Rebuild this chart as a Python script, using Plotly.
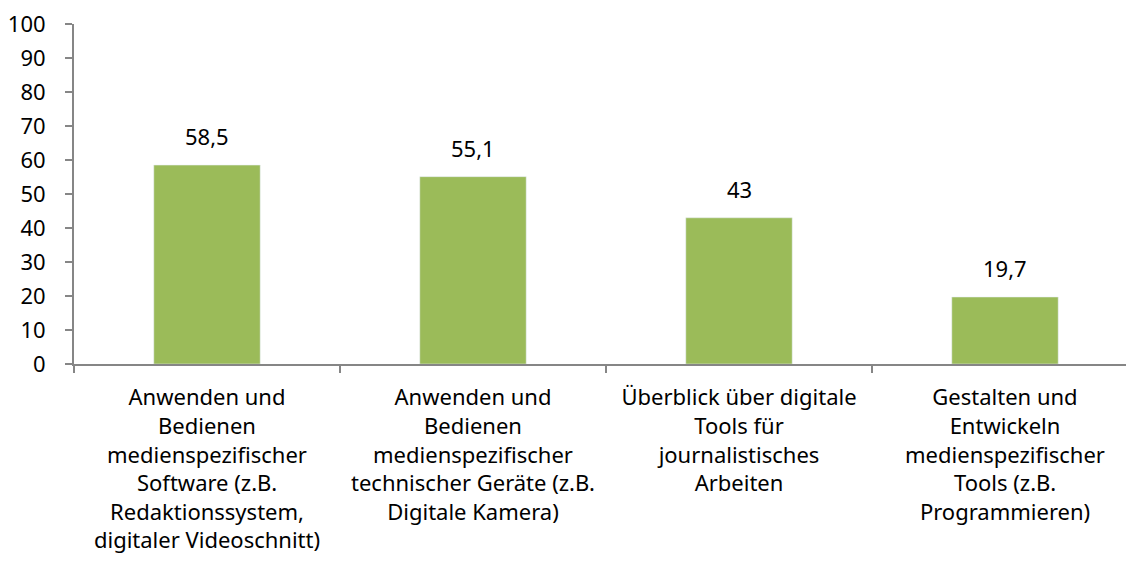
import plotly.graph_objects as go

categories = [
    "Anwenden und<br>Bedienen<br>medienspezifischer<br>Software (z.B.<br>Redaktionssystem,<br>digitaler Videoschnitt)",
    "Anwenden und<br>Bedienen<br>medienspezifischer<br>technischer Geräte (z.B.<br>Digitale Kamera)",
    "Überblick über digitale<br>Tools für<br>journalistisches<br>Arbeiten",
    "Gestalten und<br>Entwickeln<br>medienspezifischer<br>Tools (z.B.<br>Programmieren)",
]
values = [58.5, 55.1, 43, 19.7]
value_labels = ["58,5", "55,1", "43", "19,7"]
y_ticks = list(range(0, 101, 10))

FONT = "Noto Sans"
fig = go.Figure()
fig.add_trace(go.Bar(
    x=categories, y=values, marker_color="#9BBB59", width=0.4,
    hoverinfo="skip",
))
for c, v, t in zip(categories, values, value_labels):
    fig.add_annotation(x=c, y=v, text=t, showarrow=False, yanchor="bottom",
                       yshift=12, font=dict(family=FONT, size=22, color="black"))

fig.update_layout(
    width=1134, height=575,
    margin=dict(l=66, r=4, t=16, b=219),
    plot_bgcolor="white", paper_bgcolor="white",
    font=dict(family=FONT, size=22, color="black"),
    showlegend=False,
    bargap=0.6,
)
fig.update_xaxes(
    range=[-0.5, 3.5], showline=True, linecolor="#868686", linewidth=2,
    ticks="outside", tickson="boundaries", ticklen=7, tickcolor="#868686",
    tickwidth=1.5, showgrid=False, tickfont=dict(family=FONT, size=22),
    automargin=False, ticklabelstandoff=13,
)
fig.update_yaxes(
    range=[0, 100], tickvals=y_ticks, showline=True, linecolor="#868686",
    linewidth=2, ticks="outside", ticklen=7, tickcolor="#868686", tickwidth=1.5,
    showgrid=False, zeroline=False, tickfont=dict(family=FONT, size=22),
    automargin=False, ticklabelstandoff=15, ticklabeloverflow="allow",
)
fig.write_html("out.html")
